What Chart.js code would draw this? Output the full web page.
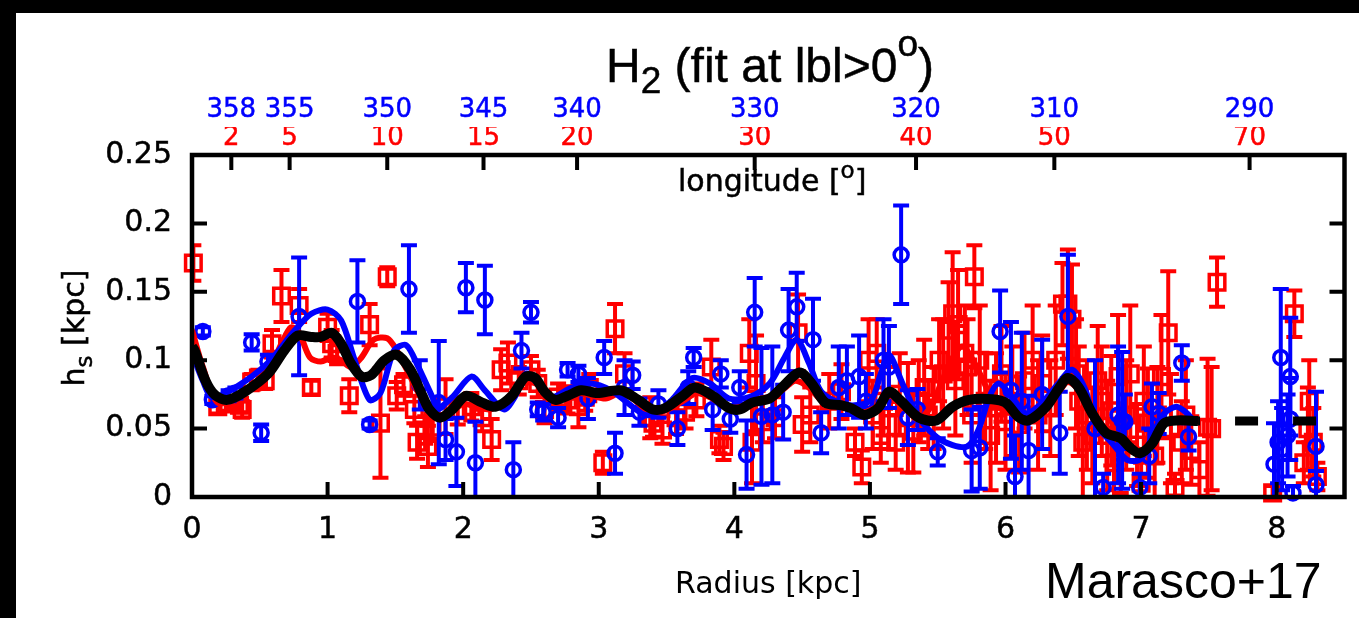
<!DOCTYPE html>
<html><head><meta charset="utf-8">
<script src="https://cdn.jsdelivr.net/npm/chart.js@4/dist/chart.umd.min.js"></script>
<style>
html,body{margin:0;padding:0;background:#000;width:1359px;height:618px;overflow:hidden}
#wrap{position:absolute;left:16px;top:13px;width:1343px;height:605px;background:#fff}
canvas{display:block}
</style></head><body>
<div id="wrap"><canvas id="c" width="1343" height="605" style="width:1343px;height:605px"></canvas></div>
<script>
// ---------- tick labels ----------
const xTickVals = [0,1,2,3,4,5,6,7,8];
const yTickVals = [0,0.05,0.1,0.15,0.2,0.25];
const yTickLabels = ['0','0.05','0.1','0.15','0.2','0.25'];
const topTickR = [0.29,0.72,1.44,2.15,2.84,4.15,5.34,6.36,7.80];
const topRedLabels = ['2','5','10','15','20','30','40','50','70'];
const topBlueLabels = ['358','355','350','345','340','330','320','310','290'];

// ---------- red points (squares) ----------
const redR = [0.01,0.19,0.27,0.35,0.37,0.44,0.49,0.54,0.59,0.66,0.79,0.88,1.00,1.03,1.07,1.16,1.31,1.39,1.44,1.51,1.56,1.64,1.66,1.72,1.74,1.77,1.87,1.96,2.06,2.14,2.21,2.28,2.33,2.41,2.50,2.55,2.60,2.70,2.77,2.85,2.90,2.93,3.03,3.12,3.19,3.38,3.40,3.47,3.57,3.64,3.72,3.83,3.89,3.92,4.11,4.13,4.16,4.21,4.30,4.47,4.50,4.56,4.70,4.79,4.89,4.94,4.99,5.05,5.10,5.14,5.19,5.28,5.36,5.43,5.51,5.58,5.61,5.65,5.70,5.72,5.77,5.85,5.93,6.00,6.10,6.20,6.27,6.33,6.42,6.46,6.49,6.54,6.60,6.64,6.71,6.78,6.83,6.85,6.92,6.97,7.00,7.05,7.15,7.20,7.25,7.30,7.37,7.49,7.52,7.56,7.97,8.13,8.20,8.23,8.24,8.27,8.30,
  5.02,5.08,5.22,5.32,5.40,5.47,5.54,5.63,5.75,5.81,5.89,5.97,6.05,6.14,6.24,6.37,6.52,6.57,6.68,6.75,6.80,6.89,7.02,7.10,7.12,7.22,7.33,7.43];
const redH = [0.171,0.066,0.068,0.067,0.064,0.084,0.087,0.085,0.112,0.147,0.140,0.080,0.124,0.112,0.105,0.074,0.126,0.054,0.161,0.074,0.082,0.064,0.040,0.049,0.037,0.051,0.066,0.063,0.066,0.058,0.042,0.093,0.098,0.085,0.093,0.083,0.064,0.073,0.071,0.066,0.073,0.080,0.025,0.123,0.090,0.058,0.054,0.049,0.058,0.062,0.071,0.095,0.042,0.037,0.105,0.040,0.083,0.055,0.058,0.120,0.053,0.060,0.070,0.077,0.040,0.022,0.100,0.105,0.070,0.065,0.040,0.058,0.070,0.060,0.100,0.122,0.134,0.126,0.105,0.095,0.161,0.070,0.065,0.055,0.053,0.100,0.083,0.065,0.141,0.141,0.130,0.070,0.060,0.045,0.070,0.063,0.088,0.033,0.090,0.038,0.010,0.054,0.088,0.120,0.007,0.040,0.034,0.051,0.050,0.157,0.003,0.134,0.025,0.050,0.070,0.040,0.015,
  0.060,0.045,0.075,0.048,0.080,0.065,0.090,0.085,0.060,0.100,0.045,0.090,0.070,0.085,0.060,0.100,0.090,0.040,0.085,0.045,0.025,0.060,0.070,0.030,0.060,0.050,0.060,0.020];
const redErr = [0.013,0.005,0.005,0.005,0.006,0.006,0.006,0.006,0.010,0.019,0.012,0.005,0.010,0.010,0.008,0.012,0.015,0.040,0.007,0.010,0.008,0.010,0.012,0.010,0.015,0.010,0.020,0.010,0.010,0.010,0.015,0.015,0.015,0.010,0.010,0.010,0.010,0.010,0.010,0.015,0.010,0.010,0.008,0.018,0.015,0.015,0.010,0.010,0.012,0.012,0.012,0.020,0.010,0.010,0.025,0.030,0.035,0.015,0.015,0.028,0.020,0.020,0.020,0.020,0.010,0.012,0.030,0.025,0.025,0.030,0.020,0.040,0.030,0.025,0.030,0.035,0.045,0.040,0.035,0.035,0.023,0.035,0.040,0.035,0.035,0.040,0.035,0.035,0.030,0.040,0.040,0.040,0.040,0.035,0.040,0.040,0.045,0.030,0.050,0.030,0.015,0.040,0.045,0.045,0.010,0.030,0.025,0.050,0.045,0.018,0.005,0.017,0.015,0.030,0.030,0.025,0.010,
  0.025,0.020,0.030,0.030,0.035,0.030,0.040,0.040,0.035,0.040,0.040,0.035,0.040,0.035,0.040,0.040,0.040,0.040,0.040,0.040,0.030,0.040,0.040,0.030,0.035,0.040,0.040,0.020];

// ---------- blue points (circles) ----------
const blueR = [0.08,0.15,0.27,0.32,0.44,0.51,0.56,0.79,1.22,1.31,1.60,1.68,1.82,1.87,1.95,2.02,2.09,2.16,2.37,2.43,2.50,2.55,2.59,2.70,2.77,2.85,2.92,3.04,3.12,3.19,3.25,3.30,3.44,3.58,3.66,3.70,3.84,3.90,3.97,4.04,4.09,4.15,4.20,4.28,4.36,4.40,4.46,4.58,4.64,4.77,4.83,4.92,4.97,5.10,5.14,5.23,5.28,5.35,5.50,5.75,5.81,5.96,6.04,6.07,6.12,6.17,6.27,6.40,6.46,6.66,6.72,6.83,6.86,6.88,6.99,7.06,7.08,7.13,7.30,7.35,7.98,8.01,8.03,8.04,8.08,8.10,8.10,8.12,8.29,8.29];
const blueH = [0.121,0.071,0.074,0.076,0.113,0.047,0.099,0.132,0.143,0.053,0.152,0.082,0.069,0.042,0.033,0.153,0.025,0.144,0.020,0.107,0.135,0.064,0.062,0.058,0.093,0.090,0.072,0.102,0.032,0.080,0.089,0.062,0.068,0.050,0.080,0.102,0.064,0.090,0.057,0.080,0.031,0.135,0.059,0.060,0.062,0.122,0.139,0.115,0.047,0.080,0.085,0.088,0.070,0.100,0.095,0.177,0.058,0.064,0.033,0.034,0.036,0.121,0.078,0.015,0.070,0.034,0.075,0.047,0.132,0.050,0.007,0.060,0.056,0.055,0.007,0.030,0.066,0.061,0.098,0.044,0.024,0.040,0.102,0.035,0.045,0.088,0.057,0.003,0.037,0.009];
const blueErr = [0.003,0.003,0.004,0.004,0.006,0.006,0.005,0.043,0.030,0.003,0.032,0.018,0.045,0.015,0.025,0.018,0.030,0.025,0.020,0.013,0.0075,0.005,0.006,0.007,0.005,0.006,0.015,0.012,0.015,0.020,0.010,0.010,0.010,0.012,0.012,0.007,0.015,0.010,0.010,0.012,0.025,0.025,0.050,0.050,0.020,0.030,0.025,0.030,0.015,0.030,0.025,0.030,0.020,0.030,0.030,0.036,0.020,0.015,0.010,0.030,0.030,0.030,0.050,0.030,0.050,0.040,0.040,0.030,0.045,0.050,0.010,0.050,0.050,0.020,0.010,0.020,0.017,0.015,0.013,0.010,0.030,0.030,0.050,0.030,0.030,0.043,0.030,0.005,0.040,0.010];

// ---------- smooth curves ----------
const redLineR = [0.00,0.08,0.19,0.34,0.48,0.60,0.66,0.73,0.79,0.87,0.95,1.03,1.10,1.17,1.25,1.34,1.44,1.51,1.61,1.71,1.80,1.90,2.00,2.10,2.20,2.30,2.40,2.47,2.55,2.65,2.75,2.85,2.95,3.05,3.16,3.25,3.35,3.45,3.55,3.65,3.72,3.82,3.95,4.05,4.15,4.25,4.35,4.45,4.55,4.65,4.75,4.85,4.95,5.05,5.15,5.25,5.35,5.45,5.52,5.60,5.68,5.76,5.85,5.93,6.00,6.10,6.20,6.30,6.40,6.46,6.54,6.64,6.74,6.85,6.95,7.00];
const redLineH = [0.122,0.095,0.069,0.073,0.085,0.100,0.112,0.124,0.120,0.102,0.099,0.102,0.100,0.095,0.102,0.115,0.116,0.107,0.088,0.069,0.060,0.062,0.068,0.066,0.064,0.070,0.080,0.085,0.082,0.072,0.072,0.076,0.074,0.072,0.076,0.072,0.064,0.062,0.066,0.072,0.076,0.073,0.066,0.066,0.071,0.073,0.078,0.085,0.080,0.070,0.067,0.066,0.062,0.066,0.074,0.066,0.057,0.066,0.082,0.100,0.110,0.100,0.082,0.066,0.064,0.058,0.060,0.068,0.078,0.084,0.078,0.062,0.050,0.044,0.036,0.034];
const blueLineR = [0.00,0.08,0.15,0.32,0.56,0.76,0.88,1.00,1.10,1.20,1.31,1.39,1.49,1.58,1.67,1.75,1.82,1.92,2.06,2.16,2.30,2.38,2.46,2.55,2.65,2.80,2.94,3.09,3.21,3.34,3.43,3.54,3.69,3.82,3.96,4.11,4.26,4.37,4.46,4.55,4.64,4.77,4.89,5.01,5.08,5.14,5.24,5.36,5.49,5.61,5.72,5.80,5.88,5.95,6.05,6.15,6.27,6.39,6.49,6.59,6.66,6.79,6.90,7.00,7.10,7.17,7.26,7.34,7.40];
const blueLineH = [0.105,0.085,0.073,0.080,0.098,0.122,0.134,0.137,0.129,0.100,0.071,0.076,0.107,0.111,0.095,0.078,0.066,0.073,0.088,0.078,0.064,0.073,0.090,0.083,0.073,0.080,0.083,0.078,0.069,0.060,0.062,0.071,0.087,0.083,0.072,0.073,0.083,0.102,0.115,0.098,0.077,0.069,0.067,0.071,0.090,0.104,0.083,0.058,0.044,0.038,0.037,0.049,0.073,0.083,0.073,0.061,0.069,0.083,0.093,0.078,0.054,0.039,0.027,0.028,0.049,0.061,0.066,0.061,0.054];
const blackR = [0.00,0.02,0.10,0.17,0.26,0.39,0.56,0.68,0.78,0.88,0.95,1.03,1.10,1.17,1.25,1.32,1.42,1.51,1.61,1.70,1.75,1.83,1.92,2.02,2.14,2.24,2.36,2.46,2.53,2.60,2.68,2.77,2.87,2.99,3.16,3.29,3.40,3.49,3.62,3.71,3.84,3.96,4.04,4.13,4.26,4.35,4.48,4.57,4.67,4.79,4.86,4.96,5.06,5.14,5.22,5.36,5.49,5.61,5.73,5.90,6.00,6.10,6.17,6.30,6.39,6.46,6.54,6.64,6.74,6.85,6.92,6.99,7.08,7.17,7.27,7.42];
const blackH = [0.110,0.107,0.085,0.0745,0.071,0.077,0.090,0.107,0.118,0.117,0.117,0.120,0.112,0.098,0.088,0.089,0.100,0.104,0.093,0.074,0.064,0.058,0.064,0.074,0.069,0.066,0.074,0.088,0.087,0.077,0.071,0.074,0.078,0.076,0.078,0.071,0.064,0.065,0.074,0.080,0.074,0.065,0.064,0.069,0.072,0.080,0.091,0.083,0.069,0.067,0.065,0.060,0.065,0.077,0.071,0.058,0.056,0.066,0.071,0.0715,0.069,0.058,0.056,0.066,0.079,0.087,0.080,0.061,0.047,0.043,0.036,0.032,0.039,0.054,0.056,0.0555];
const dashR = [7.42,8.30];
const dashH = [0.0555,0.0555];

// ---------- styling ----------
const RED = '#ff0000', BLUE = '#0000ff';
const FONT = '"DejaVu Sans", sans-serif';
const pts = (xs, ys) => xs.map((x, i) => ({x: x, y: ys[i]}));

const errorBars = {
  id: 'errorBars',
  beforeDatasetDraw(chart, args) {
    const ds = chart.data.datasets[args.index];
    if (!ds.errors) return;
    const {ctx, chartArea: a, scales: {x, y}} = chart;
    ctx.save();
    ctx.beginPath(); ctx.rect(a.left, a.top, a.right - a.left, a.bottom - a.top); ctx.clip();
    ctx.strokeStyle = ds.borderColor; ctx.lineWidth = 4; ctx.lineCap = 'butt';
    ds.data.forEach((p, i) => {
      const e = ds.errors[i];
      const px = x.getPixelForValue(p.x);
      const y1 = y.getPixelForValue(p.y - e), y2 = y.getPixelForValue(p.y + e);
      ctx.beginPath();
      ctx.moveTo(px, y1); ctx.lineTo(px, y2);
      ctx.moveTo(px - 8, y1); ctx.lineTo(px + 8, y1);
      ctx.moveTo(px - 8, y2); ctx.lineTo(px + 8, y2);
      ctx.stroke();
    });
    ctx.restore();
  }
};

function rich(ctx, parts, x, y, align, stroke) {
  let w = 0;
  parts.forEach(p => { ctx.font = p.f; p.w = ctx.measureText(p.t).width; w += p.w; });
  let cx = align === 'center' ? x - w / 2 : x;
  ctx.textAlign = 'left'; ctx.textBaseline = 'alphabetic';
  parts.forEach(p => {
    ctx.font = p.f;
    ctx.fillText(p.t, cx, y + (p.dy || 0));
    if (stroke) { ctx.lineWidth = stroke; ctx.strokeText(p.t, cx, y + (p.dy || 0)); }
    cx += p.w;
  });
}

const frame = {
  id: 'frame',
  afterDatasetsDraw(chart) {
    const {ctx, chartArea: a, scales} = chart;
    ctx.save();
    ctx.strokeStyle = '#000';
    ctx.lineWidth = 4.5;
    ctx.strokeRect(a.left, a.top, a.right - a.left, a.bottom - a.top);
    ctx.lineWidth = 4;
    ctx.beginPath();
    const L = 15;
    scales.y.ticks.forEach(t => {
      if (t.value <= 0 || t.value >= 0.25) return;
      const py = scales.y.getPixelForValue(t.value);
      ctx.moveTo(a.left, py); ctx.lineTo(a.left + L, py);
      ctx.moveTo(a.right, py); ctx.lineTo(a.right - L, py);
    });
    scales.x.ticks.forEach(t => {
      if (t.value <= 0) return;
      const px = scales.x.getPixelForValue(t.value);
      ctx.moveTo(px, a.bottom); ctx.lineTo(px, a.bottom - L);
    });
    scales.xTop.ticks.forEach(t => {
      const px = scales.xTop.getPixelForValue(t.value);
      ctx.moveTo(px, a.top); ctx.lineTo(px, a.top + L);
    });
    ctx.stroke();
    ctx.restore();
  },
  afterDraw(chart) {
    const ctx = chart.ctx;
    ctx.save();
    ctx.fillStyle = '#000'; ctx.strokeStyle = '#000';
    // title
    const TF = '48px "Liberation Sans", Arial, sans-serif', TS = '37px "Liberation Sans", Arial, sans-serif';
    rich(ctx, [{t: 'H', f: TF}, {t: '2', f: TS, dy: 11}, {t: ' (fit at lbl>0', f: TF}, {t: 'o', f: TS, dy: -26}, {t: ')', f: TF}], 754, 69, 'center', 0.5);
    // longitude label
    const LF = '30px ' + FONT, LS = '23px ' + FONT;
    rich(ctx, [{t: 'longitude [', f: LF}, {t: 'o', f: LS, dy: -13}, {t: ']', f: LF}], 662, 178, 'left', 0.5);
    // y label rotated
    ctx.save();
    ctx.translate(68, 315);
    ctx.rotate(-Math.PI / 2);
    rich(ctx, [{t: 'h', f: LF}, {t: 's', f: LS, dy: 8}, {t: ' [kpc]', f: LF}], 0, 0, 'center', 0.5);
    ctx.restore();
    // credit
    rich(ctx, [{t: 'Marasco+17', f: '50px "Liberation Sans", Arial, sans-serif'}], 1029, 585, 'left', 0);
    ctx.restore();
  }
};

const topAxis = (color, labels, weight, height) => ({
  type: 'linear', position: 'top', min: 0, max: 8.5, weight: weight,
  afterBuildTicks(s) { s.ticks = topTickR.map(v => ({value: v})); },
  afterFit(s) { s.height = height; },
  grid: {display: false, drawTicks: false}, border: {display: false},
  ticks: {color: color, textStrokeColor: color, textStrokeWidth: 0.5, font: {family: FONT, size: 26}, padding: 1, maxRotation: 0, minRotation: 0, autoSkip: false,
    callback: (v, i) => labels[i]}
});

new Chart(document.getElementById('c'), {
  type: 'scatter',
  data: {
    datasets: [
      {label: 'mean', data: pts(blackR, blackH), showLine: true, borderColor: '#000', borderWidth: 10, pointRadius: 0, tension: 0.3, fill: false},
      {label: 'mean ext', data: pts(dashR, dashH), showLine: true, borderColor: '#000', borderWidth: 9, pointRadius: 0, borderDash: [23, 35], borderDashOffset: 21, fill: false},
      {label: 'blue fit', data: pts(blueLineR, blueLineH), showLine: true, borderColor: BLUE, borderWidth: 6, pointRadius: 0, tension: 0.3, fill: false},
      {label: 'red fit', data: pts(redLineR, redLineH), showLine: true, borderColor: RED, borderWidth: 6, pointRadius: 0, tension: 0.3, fill: false},
      {label: 'blue', data: pts(blueR, blueH), errors: blueErr, showLine: false, pointStyle: 'circle', pointRadius: 7, borderWidth: 3.5, borderColor: BLUE, backgroundColor: 'rgba(0,0,0,0)', clip: false},
      {label: 'red', data: pts(redR, redH), errors: redErr, showLine: false, pointStyle: 'rect', pointRadius: 11, borderWidth: 3.5, borderColor: RED, backgroundColor: 'rgba(0,0,0,0)', clip: false}
    ]
  },
  options: {
    responsive: false, animation: false, devicePixelRatio: 1, events: [],
    layout: {padding: 0},
    plugins: {legend: {display: false}, tooltip: {enabled: false}, title: {display: false}},
    scales: {
      x: {
        type: 'linear', position: 'bottom', min: 0, max: 8.5,
        afterBuildTicks(s) { s.ticks = xTickVals.map(v => ({value: v})); },
        afterFit(s) { s.height = 121; },
        grid: {display: false, drawTicks: false}, border: {display: false},
        ticks: {color: '#000', textStrokeColor: '#000', textStrokeWidth: 0.5, font: {family: FONT, size: 30}, padding: 15, maxRotation: 0, minRotation: 0, autoSkip: false, callback: v => String(v)},
        title: {display: true, text: 'Radius [kpc]', color: '#000', font: {family: FONT, size: 30}, padding: {top: 0, bottom: 15}}
      },
      xTop: topAxis(RED, topRedLabels, 1, 28),
      xTop2: topAxis(BLUE, topBlueLabels, 2, 114),
      y: {
        type: 'linear', position: 'left', min: 0, max: 0.25,
        afterBuildTicks(s) { s.ticks = yTickVals.map(v => ({value: v})); },
        afterFit(s) { s.width = 176; },
        grid: {display: false, drawTicks: false}, border: {display: false},
        ticks: {color: '#000', textStrokeColor: '#000', textStrokeWidth: 0.5, font: {family: FONT, size: 30}, padding: 20, callback: (v, i) => yTickLabels[i]}
      }
    }
  },
  plugins: [errorBars, frame]
});
</script>
</body></html>
